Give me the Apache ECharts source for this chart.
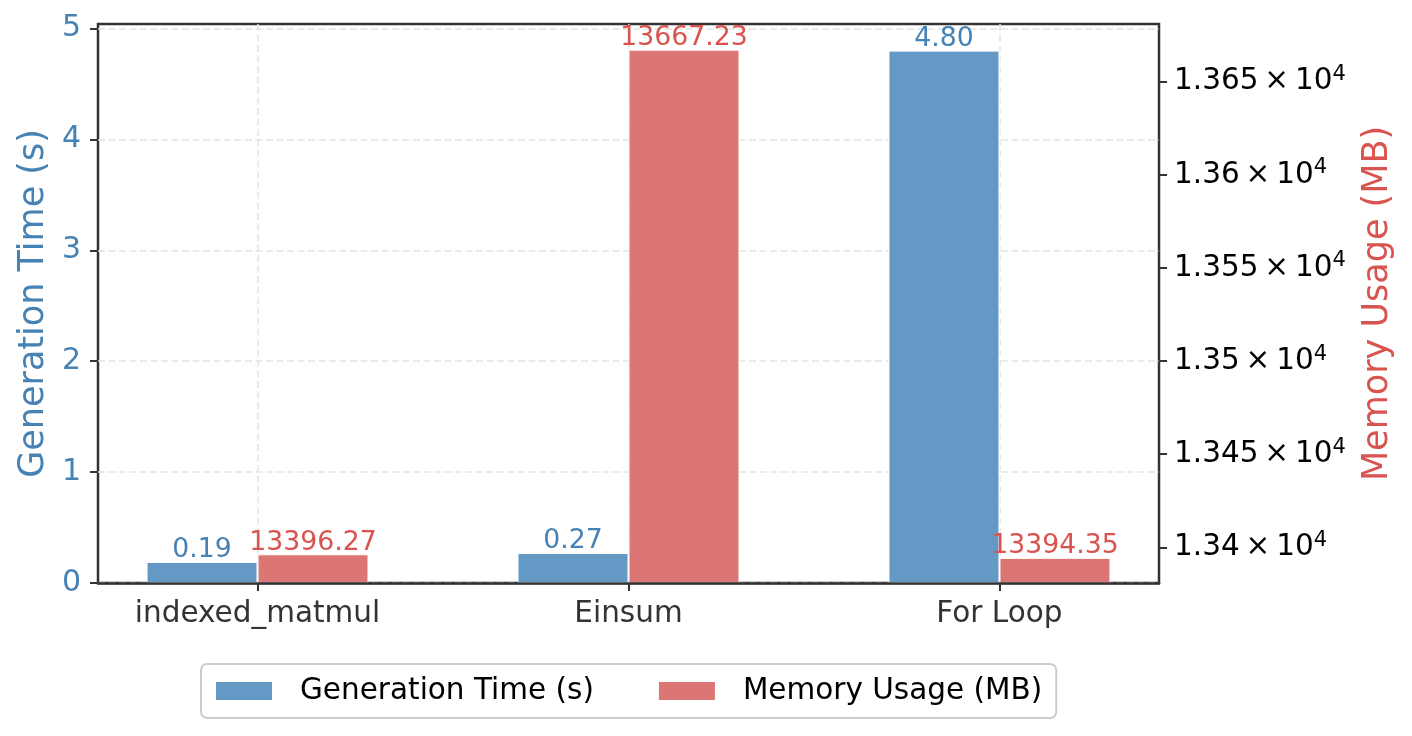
<!DOCTYPE html>
<html><head><meta charset="utf-8">
<script src="https://cdn.jsdelivr.net/npm/echarts@6/dist/echarts.min.js"></script>
<style>html,body{margin:0;padding:0;background:#fff}#c{width:1412px;height:736px}</style>
</head><body><div id="c"></div>
<script>
const categories = ['indexed_matmul', 'Einsum', 'For Loop'];
const categoryPositions = [0, 1, 2];
const generationTime = [0.19, 0.27, 4.80];
const memoryUsage = [13396.27, 13667.23, 13394.35];
const leftTicks = [0, 1, 2, 3, 4, 5];
const rightTicks = [13400, 13450, 13500, 13550, 13600, 13650];

const FONT = 'DejaVu Sans';
const BLUE_TXT = '#4682b4', BLUE_BAR = '#6399c4', RED_TXT = '#d9534f', RED_BAR = '#dc7674';
const tickStyle = {show: true, length: 8, lineStyle: {color: '#333', width: 2}};
const splitStyle = {show: true, lineStyle: {color: '#e3e3e3', width: 1.5, type: [7, 3.5]}};

const chart = echarts.init(document.getElementById('c'), null, {renderer: 'canvas'});
chart.setOption({
  animation: false,
  backgroundColor: '#fff',
  textStyle: {fontFamily: FONT},
  grid: {left: 98, right: 253, top: 24, bottom: 153, show: true, borderColor: '#333', borderWidth: 2.5, backgroundColor: 'transparent'},
  xAxis: [
    {type: 'value', min: -0.43, max: 2.43, z: 0,
     axisLine: {show: false, onZero: false},
     axisTick: {show: false, customValues: categoryPositions},
     axisLabel: {show: false, customValues: categoryPositions},
     splitLine: splitStyle},
    {type: 'value', min: -0.43, max: 2.43, position: 'bottom', z: 10,
     axisLine: {show: true, onZero: false, lineStyle: {color: '#333', width: 2.5}},
     axisTick: Object.assign({}, tickStyle, {customValues: categoryPositions}),
     axisLabel: {customValues: categoryPositions, formatter: v => categories[categoryPositions.indexOf(v)],
                 fontSize: 29.5, color: '#333', fontFamily: FONT, margin: 16},
     splitLine: {show: false}}
  ],
  yAxis: [
    {type: 'value', position: 'left', min: 0, max: 5.04,
     name: 'Generation Time (s)', nameLocation: 'middle', nameGap: 47, nameRotate: 90,
     nameTextStyle: {color: BLUE_TXT, fontSize: 35, fontFamily: FONT},
     axisLine: {show: false, onZero: false},
     axisTick: Object.assign({}, tickStyle, {customValues: leftTicks}),
     axisLabel: {customValues: leftTicks, color: BLUE_TXT, fontSize: 30, margin: 17, fontFamily: FONT},
     splitLine: splitStyle},
    {type: 'value', position: 'right', min: 13380.85, max: 13681.0,
     name: 'Memory Usage (MB)', nameLocation: 'middle', nameGap: 201, nameRotate: 90,
     nameTextStyle: {color: RED_TXT, fontSize: 35, fontFamily: FONT},
     axisLine: {show: false, onZero: false},
     axisTick: Object.assign({}, tickStyle, {customValues: rightTicks}),
     axisLabel: {customValues: rightTicks, margin: 15,
       formatter: v => '{m|' + String(+(v / 1e4).toFixed(4)) + '\u2009\u00d7\u200910}{s|4}',
       rich: {m: {fontSize: 29.5, color: '#000', fontFamily: FONT},
              s: {fontSize: 21, color: '#000', fontFamily: FONT, padding: [0, 0, 14, 0]}}},
     splitLine: {show: false}}
  ],
  legend: {left: 201, top: 664, itemWidth: 58, itemHeight: 20, itemGap: 63,
    padding: [11, 14, 11, 13], borderColor: '#ccc', borderWidth: 2, borderRadius: 6, icon: 'rect',
    textStyle: {fontSize: 29.5, color: '#000', fontFamily: FONT, padding: [0, 0, 0, 22], lineHeight: 32},
    data: ['Generation Time (s)', 'Memory Usage (MB)']},
  series: [
    {type: 'bar', name: 'Generation Time (s)', xAxisIndex: 0, yAxisIndex: 0,
     data: categoryPositions.map((x, i) => [x, generationTime[i]]),
     barWidth: 111, barGap: '0%',
     itemStyle: {color: BLUE_BAR, borderColor: '#fff', borderWidth: 1},
     label: {show: true, position: 'top', distance: -2, formatter: p => p.value[1].toFixed(2),
             color: BLUE_TXT, fontSize: 26.7, fontFamily: FONT}},
    {type: 'bar', name: 'Memory Usage (MB)', xAxisIndex: 0, yAxisIndex: 1,
     data: categoryPositions.map((x, i) => [x, memoryUsage[i]]),
     barWidth: 111, barGap: '0%',
     itemStyle: {color: RED_BAR, borderColor: '#fff', borderWidth: 1},
     label: {show: true, position: 'top', distance: -2, formatter: p => p.value[1].toFixed(2),
             color: RED_TXT, fontSize: 26.7, fontFamily: FONT}}
  ]
});
</script></body></html>
